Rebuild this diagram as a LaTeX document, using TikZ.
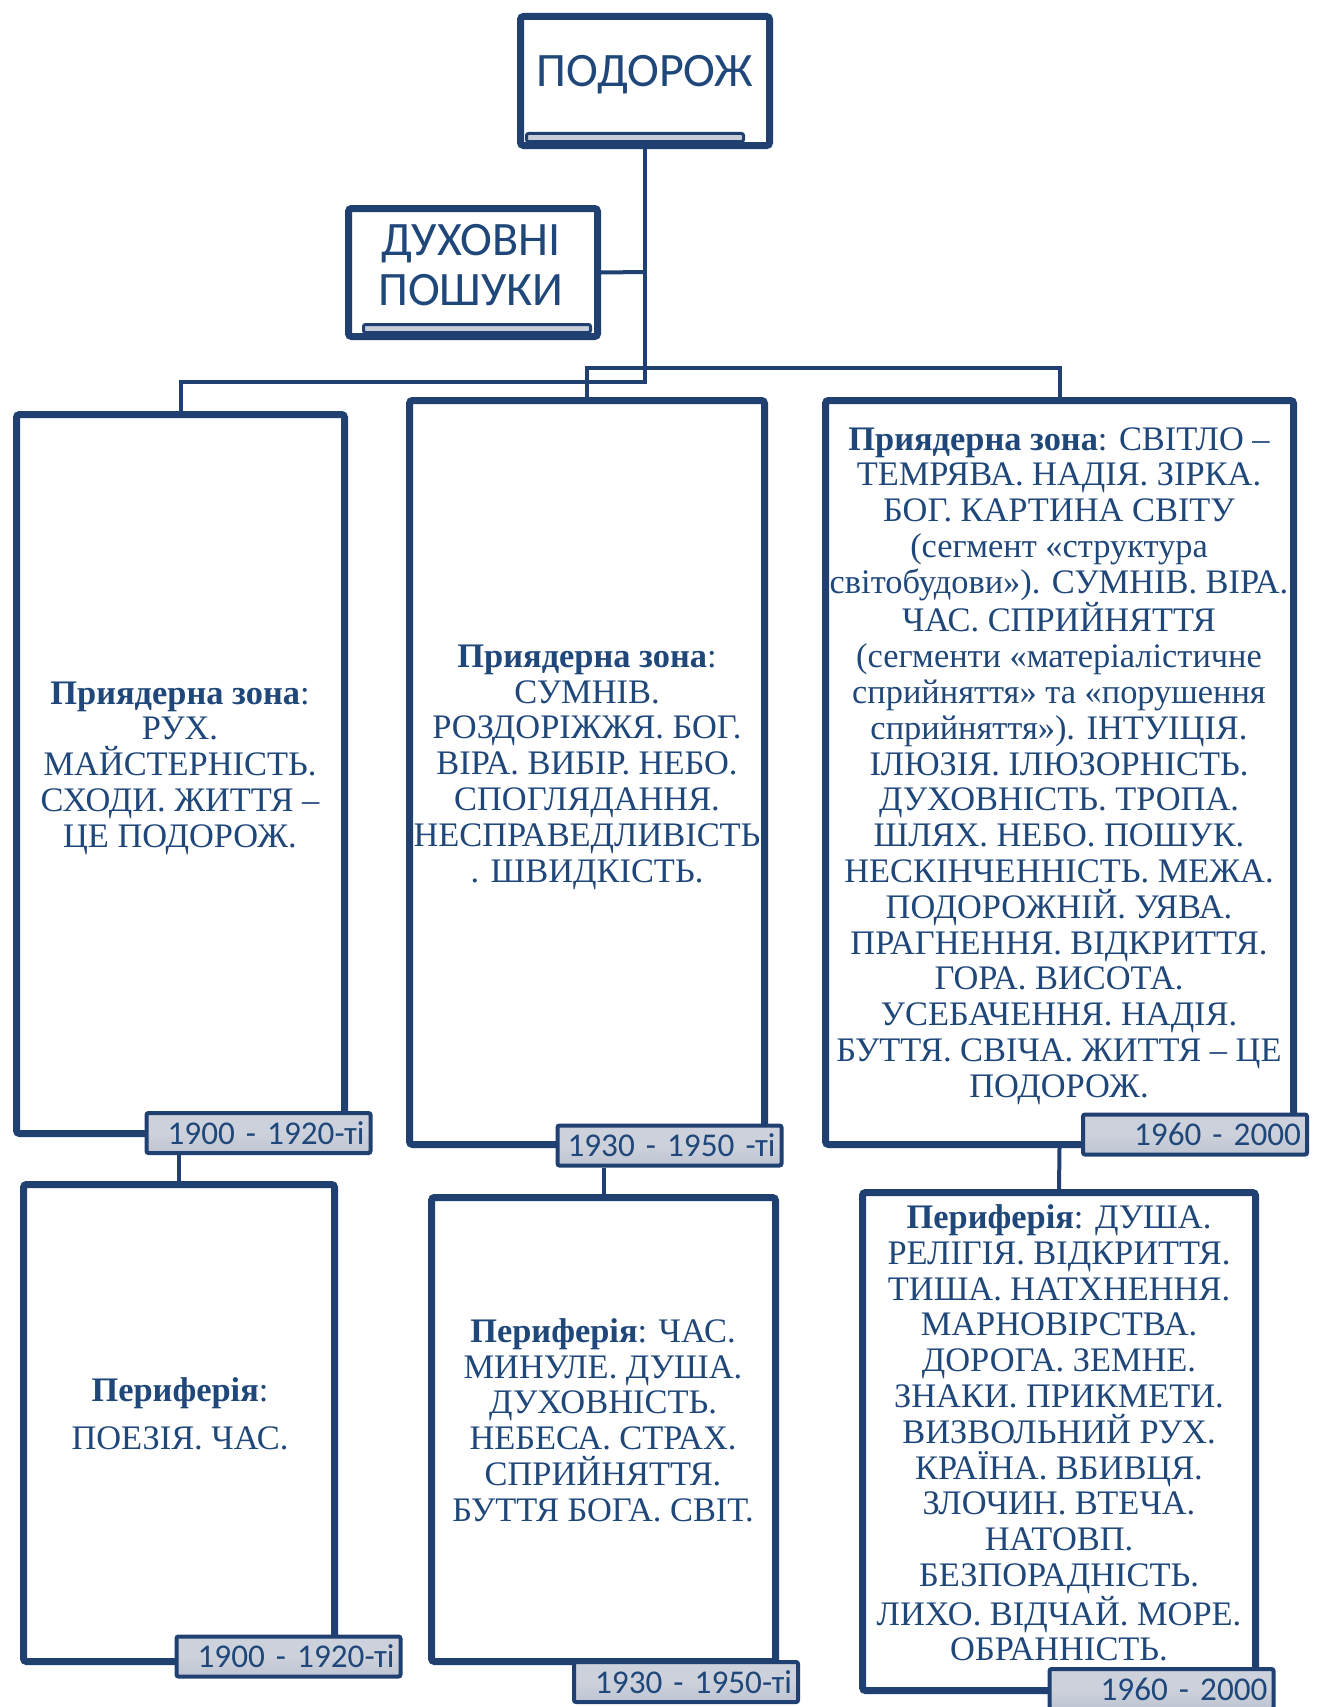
\documentclass[tikz,border=0pt]{standalone}
\usepackage{fontspec}
\setmainfont{Liberation Serif}
\newfontfamily\calfont{Carlito}
\usetikzlibrary{shadows}
\definecolor{boxc}{RGB}{31,64,112}
\definecolor{txtc}{RGB}{31,71,122}
\definecolor{lblc}{RGB}{204,209,219}
\definecolor{lblb}{RGB}{190,196,209}
\definecolor{barc}{RGB}{200,205,216}
\tikzset{
  box/.style={draw=boxc, line width=3.5pt, fill=white, rounded corners=1.5pt, inner sep=0pt,
    drop shadow={opacity=0.22, shadow xshift=1.5pt, shadow yshift=-1.5pt}},
  lbl/.style={draw=boxc, line width=2pt, top color=lblc, bottom color=lblb, middle color=lblc,
    rounded corners=1pt, inner xsep=3pt, inner ysep=0pt,
    minimum height=20pt, text width=106pt, align=right, text=txtc,
    font=\calfont\fontsize{16.6}{20}\selectfont},
  bar/.style={draw=boxc, line width=1.5pt, fill=barc, rounded corners=1pt, inner sep=0pt},
  conn/.style={draw=boxc, line width=2pt},
  body/.style={text=txtc, align=center, inner sep=0pt, font=\fontsize{17.2}{17.9}\selectfont},
  ttl/.style={text=txtc, align=center, inner sep=0pt, font=\calfont\fontsize{24}{25}\selectfont}
}
\begin{document}
\begin{tikzpicture}[x=0.5pt,y=-0.5pt]
\useasboundingbox (0,0) rectangle (1320,1707);
\coordinate (tj) at (645,382);
\coordinate (mj) at (587,368);
\coordinate (dj) at (645,272);
% boxes
\node[box, minimum width=124.5pt, minimum height=64.5pt] (t1) at (645,81) {};
\node[box, minimum width=124.5pt, minimum height=64pt] (t2) at (473,272.5) {};
\node[box, minimum width=164pt, minimum height=359.5pt] (b1) at (180.5,774) {};
\node[box, minimum width=177.5pt, minimum height=372pt] (b2) at (587,772.5) {};
\node[box, minimum width=234pt, minimum height=372pt] (b3) at (1059.5,772.5) {};
\node[box, minimum width=155.5pt, minimum height=238.5pt] (b4) at (179,1423) {};
\node[box, minimum width=172pt, minimum height=232pt] (b5) at (603.5,1429.5) {};
\node[box, minimum width=196.5pt, minimum height=249pt] (b6) at (1059,1441.5) {};
% connectors
\draw[conn] (t1.south) -- (tj) -| (b1.north);
\draw[conn] (t2.east) -- (dj);
\draw[conn] (b2.north) -- (mj) -| (b3.north);
\draw[conn] (b3.south) -- (b6.north);
% title bars
\node[bar, minimum width=108.5pt, minimum height=4pt] (bar1) at (635,137.5) {};
\node[bar, minimum width=113.5pt, minimum height=4pt] (bar2) at (477,328.5) {};
% title texts
\node[ttl] (tt1) at (645,75) {ПОДОРОЖ};
\node[ttl] (tt2) at (471,265) {ДУХОВНІ\\ПОШУКИ};
% labels
\node[lbl] (l1) at (258.5,1133) {\mbox{1900 - 1920-ті}};
\node[lbl] (l2) at (288.5,1656.5) {\mbox{1900 - 1920-ті}};
\node[lbl] (l3) at (669.5,1145.5) {\mbox{1930 - 1950 -ті}};
\node[lbl] (l4) at (686,1682) {\mbox{1930 - 1950-ті}};
\node[lbl] (l5) at (1195,1134.5) {\mbox{1960 - 2000}};
\node[lbl] (l6) at (1161.5,1689) {\mbox{1960 - 2000}};
% lower connectors from labels
\draw[conn] (b4.north) -- (b4.north |- l1.south);
\draw[conn] (b5.north) -- (b5.north |- l3.south);
% body texts
\node[body] (x1) at (180,768) {\textbf{Приядерна зона}:\\РУХ.\\МАЙСТЕРНІСТЬ.\\СХОДИ. ЖИТТЯ –\\ЦЕ ПОДОРОЖ.};
\node[body] (x2) at (587,767) {\textbf{Приядерна зона}:\\СУМНІВ.\\РОЗДОРІЖЖЯ. БОГ.\\ВІРА. ВИБІР. НЕБО.\\СПОГЛЯДАННЯ.\\НЕСПРАВЕДЛИВІСТЬ\\. ШВИДКІСТЬ.};
\node[body] (x3) at (1059,766) {\textbf{Приядерна зона}: СВІТЛО –\\ТЕМРЯВА. НАДІЯ. ЗІРКА.\\БОГ. КАРТИНА СВІТУ\\(сегмент «структура\\світобудови»). СУМНІВ. ВІРА.\\ЧАС. СПРИЙНЯТТЯ\\(сегменти «матеріалістичне\\сприйняття» та «порушення\\сприйняття»). ІНТУІЦІЯ.\\ІЛЮЗІЯ. ІЛЮЗОРНІСТЬ.\\ДУХОВНІСТЬ. ТРОПА.\\ШЛЯХ. НЕБО. ПОШУК.\\НЕСКІНЧЕННІСТЬ. МЕЖА.\\ПОДОРОЖНІЙ. УЯВА.\\ПРАГНЕННЯ. ВІДКРИТТЯ.\\ГОРА. ВИСОТА.\\УСЕБАЧЕННЯ. НАДІЯ.\\БУТТЯ. СВІЧА. ЖИТТЯ – ЦЕ\\ПОДОРОЖ.};
\node[body] (x4) at (180,1414) {\textbf{Периферія}:\\[6pt]ПОЕЗІЯ. ЧАС.};
\node[body] (x5) at (603,1420) {\textbf{Периферія}: ЧАС.\\МИНУЛЕ. ДУША.\\ДУХОВНІСТЬ.\\НЕБЕСА. СТРАХ.\\СПРИЙНЯТТЯ.\\БУТТЯ БОГА. СВІТ.};
\node[body] (x6) at (1059,1433) {\textbf{Периферія}: ДУША.\\РЕЛІГІЯ. ВІДКРИТТЯ.\\ТИША. НАТХНЕННЯ.\\МАРНОВІРСТВА.\\ДОРОГА. ЗЕМНЕ.\\ЗНАКИ. ПРИКМЕТИ.\\ВИЗВОЛЬНИЙ РУХ.\\КРАЇНА. ВБИВЦЯ.\\ЗЛОЧИН. ВТЕЧА.\\НАТОВП.\\БЕЗПОРАДНІСТЬ.\\ЛИХО. ВІДЧАЙ. МОРЕ.\\ОБРАННІСТЬ.};
\end{tikzpicture}
\end{document}
